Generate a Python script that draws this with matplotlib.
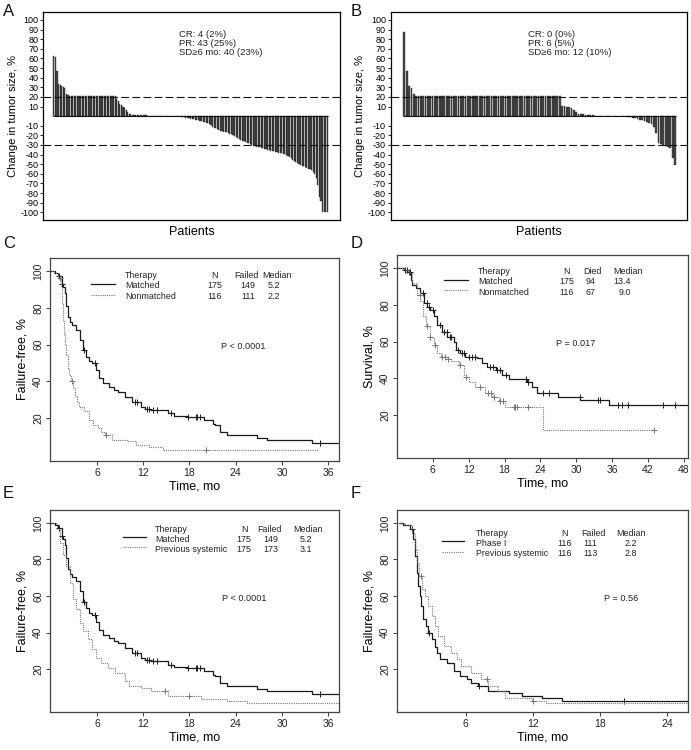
import numpy as np
import matplotlib.pyplot as plt
from matplotlib.lines import Line2D

plt.rcParams['font.family'] = ['Liberation Sans', 'DejaVu Sans']

W, H = 691, 750

# ---------------- waterfall data (change in tumor size, %) ----------------
a_change = ([63, 61, 47, 33, 32, 31, 30, 29, 23, 22]
            + [21] * 30
            + [18, 16, 13, 12, 9, 8, 6, 4, 2, 2, 1]
            + [1] * 9
            + [0] * 21
            + [-0.5, -1, -1, -1.5, -2, -2, -2.5, -3, -3, -3.5, -4, -4]
            + [-5, -5.5, -6, -6.5, -7, -7.5, -8, -9, -11]
            + [-12, -12.5, -13, -14, -15, -15, -16, -16.5]
            + [-17, -18, -18.5, -19, -20, -21, -22, -23, -24]
            + [-25, -26, -26, -27, -28, -28, -29, -30]
            + [-31, -31, -32, -32, -32, -33, -33, -34, -34]
            + [-35, -35.5, -36, -36, -36.5, -37, -37, -38]
            + [-38, -38.5, -39, -39, -40, -41, -42, -44]
            + [-46, -47, -48, -49, -50, -51, -52, -52, -53]
            + [-54, -55, -55, -56, -58, -60]
            + [-64, -72, -84, -88]
            + [-100, -100, -100, -100])

b_change = ([88, 47, 31, 29, 23]
            + [21] * 62
            + [11, 11, 10, 9, 8, 6, 4]
            + [2, 2, 2, 1, 1, 1, 1, 0.5]
            + [0] * 13
            + [-0.5, -1, -1.5, -2, -3, -4]
            + [-4.5, -5, -6, -7, -8]
            + [-11, -18, -28]
            + [-29, -30, -31, -32, -33]
            + [-44, -51])

a_text = ["CR: 4 (2%)", "PR: 43 (25%)", "SD\u22656 mo: 40 (23%)"]
b_text = ["CR: 0 (0%)", "PR: 6 (5%)", "SD\u22656 mo: 12 (10%)"]

# ---------------- Kaplan-Meier step data (time mo, %) ----------------
matched_ff_t = [0, 0.6, 1.0, 1.4, 1.6, 1.8, 2.0, 2.25, 2.5, 2.7, 3.3, 3.8, 4.2, 4.6, 5.0, 5.3,
                5.9, 6.3, 6.8, 7.6, 8.2, 8.7, 9.6, 10.6, 11.7, 12.2, 13.0, 15.2, 16.0, 17.7,
                19.9, 21.0, 21.3, 22.0, 22.9, 26.8, 28.0, 33.9]
matched_ff_s = [100, 99, 97, 93, 91, 88, 81, 75, 72, 70.5, 68, 62.5, 57, 53.4, 51, 49.8,
                46, 41.7, 39, 37, 35.5, 34.4, 31.7, 29, 26.3, 25, 24.5, 22.6, 21.4, 20.8,
                19, 17, 16.3, 12.7, 10.9, 9.1, 8.2, 6.7]
matched_ff_cens = [1.1, 1.5, 4.3, 5.8, 10.9, 11.2, 12.5, 12.8, 13.3, 13.8, 15.6, 17.8,
                   18.8, 19.0, 19.3, 34.9]
matched_ff_end = 37.5

phase1_ff_t = [0, 0.4, 1.0, 1.3, 1.45, 1.6, 1.75, 1.85, 1.98, 2.2, 2.4, 2.65, 2.93, 3.2,
               3.4, 3.7, 4.3, 4.9, 5.5, 6.1, 6.5, 7.1, 8.0, 9.9, 11.0, 12.8, 14.6]
phase1_ff_s = [100, 99, 96.4, 91, 82, 72.7, 65.5, 60, 54.5, 47.3, 43.6, 40, 36.4, 32,
               29, 25.8, 23.6, 19, 16.4, 14.5, 12.7, 10.9, 8.2, 7.3, 5.5, 4.5, 2.7]
phase1_ff_cens = [1.2, 2.7, 7.2, 20.2]
phase1_ff_end = 34.7

prev175_t = [0, 0.75, 1.2, 1.6, 2.0, 2.5, 2.9, 3.3, 3.75, 4.2, 4.8, 5.3, 5.9, 6.55, 7.4,
             8.3, 9.6, 10.2, 11.7, 13.0, 15.2, 19.5, 22.9, 25.5]
prev175_s = [100, 96.4, 89, 82.7, 76.4, 67.3, 58.2, 52.7, 45.5, 40.9, 36.4, 30.9, 26.4,
             23.6, 20.9, 18.2, 13.6, 10.9, 10, 8.2, 5.5, 3.6, 2.7, 1.8]
prev175_cens = [14.8, 18.0]
prev175_end = 37.5

prev116_t = [0, 0.55, 1.15, 1.45, 1.6, 1.8, 2.05, 2.3, 2.65, 3.0, 3.2, 3.5, 4.0, 4.7, 5.2,
             5.6, 6.5, 7.4, 8.0, 8.9, 9.5, 11.9, 13.2]
prev116_s = [100, 99, 94.5, 85.5, 78, 71, 63.6, 60, 54.5, 49, 43.6, 38.2, 32.7, 29, 25.5,
             21.8, 18.2, 14.5, 10.9, 8.2, 4.5, 2.7, 1.8]
prev116_cens = [2.0, 7.9, 12.0]
prev116_end = 26.0

matched_os_t = [0, 1.2, 1.7, 2.3, 2.55, 3.1, 3.9, 4.5, 5.05, 5.6, 6.2, 6.7, 7.55, 8.4, 9.5,
                9.8, 10.6, 11.45, 13.4, 14.2, 15.1, 16.5, 17.6, 18.7, 21.8, 22.6, 23.4,
                27.0, 30.7, 35.4]
matched_os_s = [100, 99, 98, 93.6, 90.9, 89, 86.3, 80.9, 79, 77.3, 73.6, 69.1, 65.4, 62.7,
                60, 55.4, 53.6, 51.5, 50.9, 48.2, 46.4, 44.5, 41.8, 39.5, 38.2, 35.5, 32.2,
                30, 28.2, 25.5]
matched_os_cens = [1.3, 1.6, 2.0, 2.2, 4.3, 5.0, 5.4, 6.0, 7.2, 7.8, 8.3, 8.8, 9.0, 10.2,
                   10.8, 11.2, 12.0, 12.5, 13.0, 15.5, 16.0, 16.8, 17.2, 18.2, 21.6, 22.0,
                   24.5, 25.5, 30.6, 33.6, 34.0, 37.0, 37.6, 38.6, 44.5, 46.6]
matched_os_end = 49.0

nonmatched_os_t = [0, 1.3, 2.0, 2.5, 3.4, 3.9, 4.3, 4.8, 5.6, 6.2, 6.7, 7.3, 8.6, 9.0,
                   10.3, 11.2, 12.0, 13.1, 14.8, 15.9, 17.0, 18.1, 24.5]
nonmatched_os_s = [100, 99, 97.3, 91.8, 85.4, 81.8, 73.6, 68.2, 62.7, 58.2, 53.6, 51.8,
                   50.5, 49.3, 47.3, 40.9, 38.2, 35.5, 31.8, 30, 27.8, 24.5, 11.8]
nonmatched_os_cens = [3.8, 5.1, 5.6, 6.3, 7.5, 8.0, 8.6, 10.6, 11.5, 13.9, 15.3, 15.8,
                      16.3, 17.3, 17.7, 19.5, 19.7, 20.0, 22.0, 43.0]
nonmatched_os_end = 43.0

fig = plt.figure(figsize=(W / 100, H / 100), dpi=100)


def add_ax(l, t, r, b):
    return fig.add_axes([l / W, 1 - b / H, (r - l) / W, (b - t) / H])


def ftext(x, y, s, **kw):
    fig.text(x / W, 1 - y / H, s, **kw)


def fline(x0, x1, y, **kw):
    fig.add_artist(Line2D([x0 / W, x1 / W], [1 - y / H, 1 - y / H], **kw))


SOLID = dict(color='#1a1a1a', lw=0.9, ls='-')
DOTTED = dict(color='#777777', lw=0.8, ls=(0, (1, 1)))


# ---------------- waterfall panels ----------------
def waterfall(ax, vals, xlim):
    x = np.arange(len(vals))
    ax.bar(x, vals, width=0.75, color='#4a4a4a', edgecolor='#111111', linewidth=0.25)
    ax.hlines(0, -0.5, len(vals) - 0.5, color='#111111', lw=0.8)
    for yv in (20, -30):
        ax.axhline(yv, color='#111111', lw=0.8, ls=(0, (7, 3)))
    ax.set_xlim(*xlim)
    ax.set_ylim(-108, 108)
    ticks = [v for v in range(-100, 101, 10) if v != 0]
    ax.set_yticks(ticks)
    ax.set_yticklabels([str(v) for v in ticks], fontsize=6.5)
    ax.tick_params(axis='y', length=2.5, width=0.6, pad=1)
    ax.set_xticks([])
    ax.set_xlabel('Patients', fontsize=9, labelpad=4)
    ax.set_ylabel('Change in tumor size, %', fontsize=8, labelpad=2)
    for sp in ax.spines.values():
        sp.set_linewidth(0.9)


axA = add_ax(43.3, 12.3, 340, 220)
waterfall(axA, a_change, (-6.7, 182.1))
axB = add_ax(390.7, 12.3, 687.3, 220)
waterfall(axB, b_change, (-5.8, 120.2))

for i, s in enumerate(a_text):
    ftext(179.3, 34.3 + 9 * i, s, fontsize=6.8, va='center', color='#222222')
for i, s in enumerate(b_text):
    ftext(528.3, 34.3 + 9 * i, s, fontsize=6.8, va='center', color='#222222')


# ---------------- KM panels ----------------
def km(ax, t, s, end, cens, style):
    tt = list(t) + [end]
    ss = list(s) + [s[-1]]
    ax.step(tt, ss, where='post', **style)
    idx = np.searchsorted(t, cens, side='right') - 1
    ax.plot(cens, np.asarray(s)[idx], ls='none', marker='+', ms=4, mew=0.7,
            color=style['color'])


def km_axes(ax, xlim, xticks, ylabel):
    ax.set_xlim(*xlim)
    ax.set_ylim(-3.3, 107)
    ax.set_xticks(xticks)
    ax.set_xticklabels([str(v) for v in xticks], fontsize=7.5)
    ax.set_yticks([20, 40, 60, 80, 100])
    ax.set_yticklabels(['20', '40', '60', '80', '100'], fontsize=7.5, rotation=90,
                       va='center')
    ax.tick_params(length=3, width=0.6, pad=2, colors='#222222')
    ax.set_xlabel('Time, mo', fontsize=9, labelpad=2)
    ax.set_ylabel(ylabel, fontsize=9, labelpad=3)
    for sp in ax.spines.values():
        sp.set_linewidth(0.9)
        sp.set_color('#444444')


axC = add_ax(50, 258, 339, 461)
km(axC, matched_ff_t, matched_ff_s, matched_ff_end, matched_ff_cens, SOLID)
km(axC, phase1_ff_t, phase1_ff_s, phase1_ff_end, phase1_ff_cens, DOTTED)
km_axes(axC, (-0.1, 37.4), [6, 12, 18, 24, 30, 36], 'Failure-free, %')

axD = add_ax(397, 255, 688, 458)
km(axD, matched_os_t, matched_os_s, matched_os_end, matched_os_cens, SOLID)
km(axD, nonmatched_os_t, nonmatched_os_s, nonmatched_os_end, nonmatched_os_cens, DOTTED)
km_axes(axD, (0, 48.7), [6, 12, 18, 24, 30, 36, 42, 48], 'Survival, %')

axE = add_ax(50, 510, 339, 712)
km(axE, matched_ff_t, matched_ff_s, matched_ff_end, matched_ff_cens, SOLID)
km(axE, prev175_t, prev175_s, prev175_end, prev175_cens, DOTTED)
km_axes(axE, (-0.1, 37.4), [6, 12, 18, 24, 30, 36], 'Failure-free, %')

axF = add_ax(397, 510, 688, 712)
km(axF, phase1_ff_t, phase1_ff_s, phase1_ff_end, phase1_ff_cens, SOLID)
km(axF, prev116_t, prev116_s, prev116_end, prev116_cens, DOTTED)
km_axes(axF, (-0.17, 25.9), [6, 12, 18, 24], 'Failure-free, %')


# ---------------- text legends ----------------
def legend_table(x_line, x_txt, ys, rows, head_cols, val_cols, header):
    tk = dict(fontsize=6.4, va='center', color='#222222')
    ftext(x_txt, ys[0], 'Therapy', **tk)
    for cx, h in zip(head_cols, header):
        ftext(cx, ys[0], h, ha='center', **tk)
    for k, (name, vals, style) in enumerate(rows):
        y = ys[k + 1]
        fline(x_line[0], x_line[1], y - 2, **style)
        ftext(x_txt, y, name, **tk)
        for (cx, ha), v in zip(val_cols, vals):
            ftext(cx, y, v, ha=ha, **tk)


legend_table((90.7, 115), 125, (276, 285.7, 296.7),
             [('Matched', ('175', '149', '5.2'), SOLID),
              ('Nonmatched', ('116', '111', '2.2'), DOTTED)],
             (215, 246.5, 277),
             [(215, 'center'), (248, 'center'), (273.5, 'center')],
             ('N', 'Failed', 'Median'))
ftext(243.3, 346.7, 'P < 0.0001', fontsize=6.6, ha='center', va='center', color='#222222')

legend_table((444.3, 468.3), 478.3, (271.7, 281.7, 292.3),
             [('Matched', ('175', '94', '13.4'), SOLID),
              ('Nonmatched', ('116', '67', '9.0'), DOTTED)],
             (566, 592, 627.5),
             [(567, 'center'), (590.5, 'center'), (631, 'right')],
             ('N', 'Died', 'Median'))
ftext(575.8, 343.3, 'P = 0.017', fontsize=6.6, ha='center', va='center', color='#222222')

legend_table((123.3, 145.7), 155, (529.3, 539, 549),
             [('Matched', ('175', '149', '5.2'), SOLID),
              ('Previous systemic', ('175', '173', '3.1'), DOTTED)],
             (244, 269.5, 308),
             [(244, 'center'), (270.5, 'center'), (305.5, 'center')],
             ('N', 'Failed', 'Median'))
ftext(243.8, 598.3, 'P < 0.0001', fontsize=6.6, ha='center', va='center', color='#222222')

legend_table((442.3, 464.3), 476, (533.3, 543.3, 554),
             [('Phase I', ('116', '111', '2.2'), SOLID),
              ('Previous systemic', ('116', '113', '2.8'), DOTTED)],
             (565, 593, 631),
             [(565, 'center'), (590, 'center'), (631, 'center')],
             ('N', 'Failed', 'Median'))
ftext(621, 598.3, 'P = 0.56', fontsize=6.6, ha='center', va='center', color='#222222')

# panel letters
for letter, x, y in [('A', 3, 11), ('B', 351, 11), ('C', 3, 244), ('D', 351, 244),
                     ('E', 3, 494), ('F', 351, 494)]:
    ftext(x, y, letter, fontsize=12, va='center', ha='left', color='#111111')

fig.savefig('out.png', dpi=100)
